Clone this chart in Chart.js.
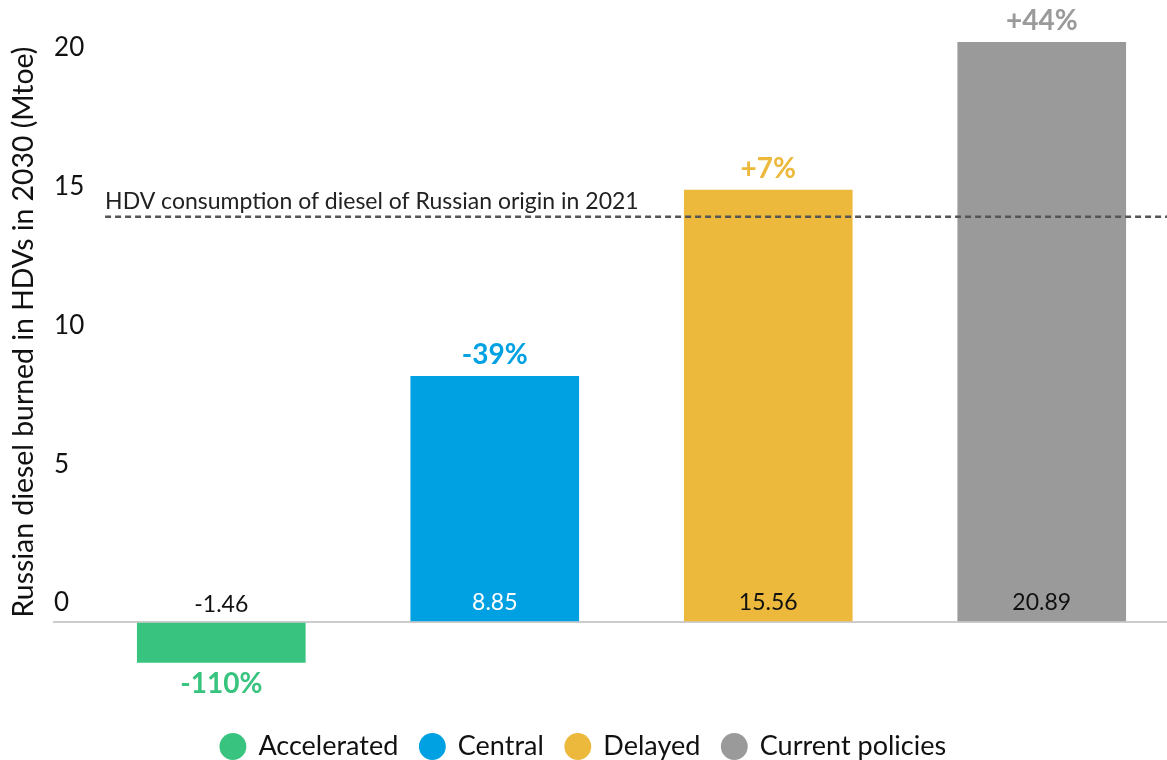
<!DOCTYPE html>
<html>
<head>
<meta charset="utf-8">
<script src="https://cdn.jsdelivr.net/npm/chart.js@4/dist/chart.umd.min.js"></script>
<style>
  html, body { margin: 0; padding: 0; background: #fff; }
  #wrap { width: 1167px; height: 760px; }
</style>
</head>
<body>
<div id="wrap"><canvas id="graph"></canvas></div>
<script>
// scenarios, values in Mtoe and the change vs 2021
var scenarios = ["Accelerated", "Central", "Delayed", "Current policies"];
var dieselMtoe = [-1.46, 8.85, 15.56, 20.89];
var changeVs2021 = ["-110%", "-39%", "+7%", "+44%"];
var colors = ["#38c47e", "#00a1e2", "#ecb93c", "#9a9a9a"];
var valueColors = ["#111111", "#ffffff", "#111111", "#111111"];
var consumption2021 = 14.6;
var refLabel = "HDV consumption of diesel of Russian origin in 2021";

var FONT = "Lato";
var ctx = document.getElementById("graph").getContext("2d");

var labelPlugin = {
    id: "barLabels",
    afterDatasetsDraw: function(chart) {
        let c = chart.ctx;
        let area = chart.chartArea;
        let y = chart.scales.y;

        // dashed 2021 line
        let ly = y.getPixelForValue(consumption2021);
        c.save();
        c.strokeStyle = "#555555";
        c.lineWidth = 2.5;
        c.setLineDash([6, 4]);
        c.beginPath();
        c.moveTo(area.left + 52, ly);
        c.lineTo(area.right, ly);
        c.stroke();
        c.setLineDash([]);
        c.fillStyle = "#222222";
        c.font = "23px " + FONT;
        c.textAlign = "left";
        c.textBaseline = "alphabetic";
        c.fillText(refLabel, area.left + 52, ly - 8);

        chart.data.datasets.forEach(function(ds, i) {
            let bar = chart.getDatasetMeta(i).data[0];
            let v = dieselMtoe[i];
            c.textAlign = "center";
            c.textBaseline = "middle";
            c.font = "23px " + FONT;
            c.fillStyle = valueColors[i];
            c.fillText(v.toFixed(2), bar.x, bar.base - 18);

            c.font = "bold 28px " + FONT;
            c.fillStyle = colors[i];
            c.fillText(changeVs2021[i], bar.x, v >= 0 ? bar.y - 21 : bar.y + 21);
        });
        c.restore();
    }
};

var datasets = scenarios.map(function(name, i) {
    return {
        label: name,
        data: [{ x: i, y: dieselMtoe[i] }],
        backgroundColor: colors[i],
        borderWidth: 0,
        clip: false,
        grouped: false,
        barThickness: 168
    };
});

var chart = new Chart(ctx, {
    type: "bar",
    data: { datasets: datasets },
    options: {
        responsive: true,
        maintainAspectRatio: false,
        animation: false,
        layout: { padding: { top: 42, right: 0, left: 0, bottom: -10 } },
        plugins: {
            legend: {
                position: "bottom",
                labels: {
                    usePointStyle: true,
                    pointStyle: "circle",
                    boxHeight: 19,
                    boxWidth: 24,
                    padding: 22,
                    color: "#111111",
                    font: { family: FONT, size: 27 }
                }
            },
            tooltip: { enabled: false }
        },
        scales: {
            x: {
                type: "linear",
                offset: false,
                min: -0.615,
                max: 3.458,
                ticks: { display: false },
                grid: { display: false },
                border: { display: false },
                afterFit: function(s) { s.height = 89; }
            },
            y: {
                min: 0,
                max: 20.9,
                ticks: {
                    stepSize: 5,
                    includeBounds: false,
                    mirror: true,
                    padding: 1,
                    labelOffset: -19,
                    color: "#111111",
                    font: { family: FONT, size: 26 }
                },
                grid: {
                    drawTicks: false,
                    color: function(c) { return c.tick && c.tick.value === 0 ? "#cccccc" : "rgba(0,0,0,0)"; },
                    lineWidth: 2
                },
                border: { display: false },
                title: {
                    display: true,
                    text: "Russian diesel burned in HDVs in 2030 (Mtoe)",
                    color: "#111111",
                    font: { family: FONT, size: 28.4 },
                    padding: { top: 7, bottom: 10 }
                }
            }
        }
    },
    plugins: [labelPlugin]
});
</script>
</body>
</html>
